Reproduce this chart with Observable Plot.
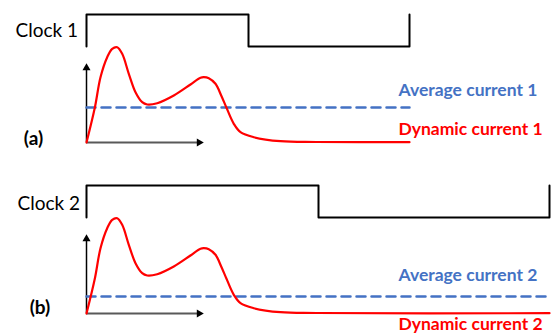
<!DOCTYPE html>
<html><head><meta charset="utf-8">
<script src="https://cdn.jsdelivr.net/npm/d3@7"></script>
<script src="https://cdn.jsdelivr.net/npm/@observablehq/plot@0.6"></script>
<style>
html,body{margin:0;padding:0;background:#fff;overflow:hidden}
svg{display:block}
</style></head><body>
<div id="chart"></div>
<script>
// Shared dynamic-current waveform (time after clock edge, current above baseline)
const curveTime    = [0, 8.3, 14, 20.7, 25.7, 30.7, 35.7, 42.3, 49, 55.7, 60.7, 70.7, 87.3, 104, 114, 117.3, 122.3, 129, 134.7, 140, 147.3, 154, 167.3, 194, 230];
const curveCurrent = [0, 34.7, 65.3, 85.3, 93.7, 95.3, 88.7, 68.7, 50.3, 40.3, 38, 39.3, 47, 58, 64.7, 65.3, 64.3, 58.7, 47, 34.7, 18.7, 10.3, 5.3, 1.3, 0.5];

const panelIds     = ["(a)", "(b)"];
const clockLabels  = ["Clock 1", "Clock 2"];
const avgLabels    = ["Average current 1", "Average current 2"];
const dynLabels    = ["Dynamic current 1", "Dynamic current 2"];
const clockEdges   = [[0, 162, 323], [0, 232, 463]];   // rise, fall, rise
const clockLevels  = [96, 128];                          // low, high
const avgCurrent   = [35, 17];
const axisLength   = [117.3, 79.3];                      // time axis, current axis

const BLUE = "#4472C4", RED = "#FF0000";
const FONT = "Lato, 'Open Sans', sans-serif";

function panel(k, height) {
  const end = clockEdges[k][2];
  const [lo, hi] = clockLevels;
  const clock = [
    {t: clockEdges[k][0], v: lo},
    {t: clockEdges[k][0], v: hi},
    {t: clockEdges[k][1], v: lo},
    {t: clockEdges[k][2], v: hi}
  ];
  const curve = curveTime.map((t, j) => ({t, v: curveCurrent[j]}));
  curve.push({t: end, v: 0.3});
  const avg = [{t: 0, v: avgCurrent[k]}, {t: end, v: avgCurrent[k]}];
  const labelX = 312;
  const lbl = k === 0
    ? {clockY: 112, clockX: -71, avgY: 52, dynY: 13, idX: -53, idY: 4}
    : {clockY: 110, clockX: -69, avgY: 38, dynY: -11, idX: -46.5, idY: 6};
  return Plot.plot({
    width: 555, height,
    margin: 0,
    x: {domain: [-86, 469], range: [0, 555], axis: null},
    y: {domain: [-29, 142], range: [171, 0], axis: null},
    style: {fontFamily: FONT, background: "#fff"},
    marks: [
      // axes with arrowheads
      Plot.ruleX([0], {y1: 0, y2: axisLength[1] - 5, stroke: "#000", strokeWidth: 1.5}),
      Plot.ruleY([0], {x1: 0, x2: axisLength[0] - 5, stroke: "#595959", strokeWidth: 2}),
      Plot.dot([{t: 0, v: axisLength[1] - 4.67}], {x: "t", y: "v", symbol: "triangle", r: 3, fill: "#000", stroke: null}),
      Plot.dot([{t: axisLength[0] - 4.67, v: 0}], {x: "t", y: "v", symbol: "triangle", r: 3, fill: "#000", stroke: null, rotate: 90}),
      // clock
      Plot.line(clock, {x: "t", y: "v", curve: "step-after", stroke: "#000", strokeWidth: 2}),
      // average current
      Plot.line(avg, {x: "t", y: "v", stroke: BLUE, strokeWidth: 2.5, strokeDasharray: "9,6"}),
      // dynamic current
      Plot.line(curve, {x: "t", y: "v", curve: "catmull-rom", stroke: RED, strokeWidth: 2.2}),
      // labels
      Plot.text([clockLabels[k]], {x: lbl.clockX, y: lbl.clockY, text: d => d, textAnchor: "start", lineAnchor: "middle", fontSize: 19, fill: "#000"}),
      Plot.text([avgLabels[k]], {x: labelX, y: lbl.avgY, text: d => d, textAnchor: "start", lineAnchor: "middle", fontSize: 17.5, fontWeight: "bold", fill: BLUE}),
      Plot.text([dynLabels[k]], {x: labelX, y: lbl.dynY, text: d => d, textAnchor: "start", lineAnchor: "middle", fontSize: 17.5, fontWeight: "bold", fill: RED}),
      Plot.text([panelIds[k]], {x: lbl.idX, y: lbl.idY, text: d => d, textAnchor: "middle", lineAnchor: "middle", fontSize: 19, fontWeight: "bold", fill: "#000"})
    ]
  });
}

const root = document.getElementById("chart");
root.append(panel(0, 171));
root.append(panel(1, 162));
</script>
</body></html>
